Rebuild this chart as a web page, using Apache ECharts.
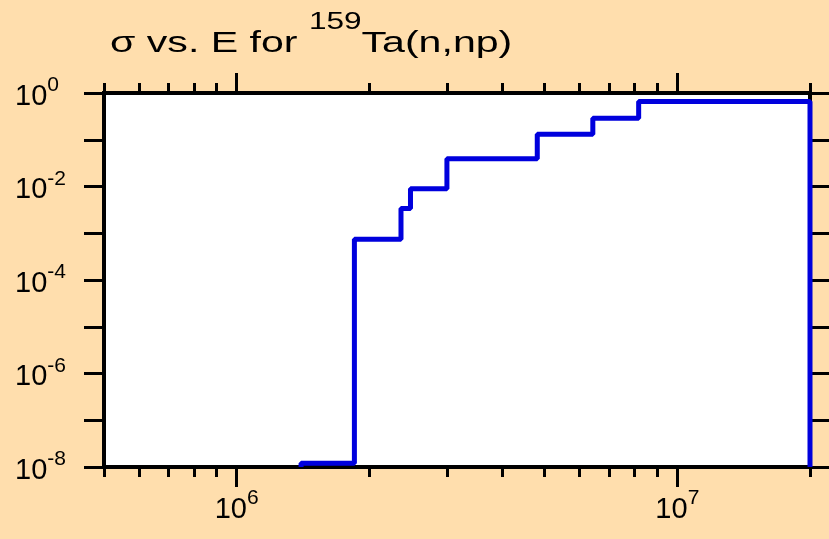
<!DOCTYPE html>
<html>
<head>
<meta charset="utf-8">
<script src="https://cdn.jsdelivr.net/npm/echarts@6/dist/echarts.min.js"></script>
<style>
html,body{margin:0;padding:0;background:#FFDEAD;}
#sigmaChart{width:829px;height:539px;}
</style>
</head>
<body>
<div id="sigmaChart"></div>
<script>
// bin edges (eV) and cross section per bin
var energyEdges = [1.4e6, 1.85e6, 2.36e6, 2.48e6, 3.0e6, 4.81e6, 6.43e6, 8.17e6, 2.0e7];
var sigmaValues = [1.2e-8, 7.4e-4, 3.4e-3, 8.9e-3, 3.9e-2, 0.131, 0.288, 0.66];
var sigmaFloor = 1e-8;

var xMajorTicks = [1e6, 1e7];
var xMinorTicks = [5e5, 6e5, 7e5, 8e5, 9e5, 2e6, 3e6, 4e6, 5e6, 6e6, 7e6, 8e6, 9e6, 2e7];
var yTicks = [1e-8, 1e-7, 1e-6, 1e-5, 1e-4, 1e-3, 1e-2, 1e-1, 1];
var yLabels = [1e-8, 1e-6, 1e-4, 1e-2, 1];

var sigmaChart = {
	options: {
		myChart: null,
		font: 'Liberation Sans'
	},
	stepData: function () {
		// step 'start': rise at each edge, then run flat to the next one
		var pts = [[energyEdges[0], sigmaFloor]];
		for (var i = 0; i < sigmaValues.length; i++) {
			pts.push([energyEdges[i + 1], sigmaValues[i]]);
		}
		pts.push([energyEdges[energyEdges.length - 1], sigmaFloor]);
		return pts;
	},
	powLabel: function (v) {
		var e = Math.round(Math.log10(v));
		return '{b|10}{e|' + e + '}';
	},
	richStyle: function () {
		var f = this.options.font;
		return {
			b: { fontSize: 29, lineHeight: 36, verticalAlign: 'bottom', color: '#000', fontFamily: f, fontWeight: 'normal' },
			e: { fontSize: 21, lineHeight: 21, verticalAlign: 'top', color: '#000', fontFamily: f, fontWeight: 'normal' }
		};
	},
	xAxis: function (pos, ticks, len, withLabels) {
		var that = this;
		return {
			type: 'log', position: pos, min: 5e5, max: 2e7,
			axisLine: { show: false },
			splitLine: { show: false },
			axisTick: { show: true, length: len, customValues: ticks, lineStyle: { color: '#000', width: 3 } },
			axisLabel: {
				show: withLabels, customValues: xMajorTicks, margin: 21,
				fontSize: 29, fontFamily: that.options.font, color: '#000',
				formatter: function (v) { return that.powLabel(v); },
				rich: that.richStyle()
			}
		};
	},
	initPage: function () {
		var that = this;
		var myChart = echarts.init(document.getElementById('sigmaChart'));
		that.options.myChart = myChart;
		var f = that.options.font;
		var option = {
			backgroundColor: '#FFDEAD',
			animation: false,
			// title drawn as graphic text so it can be widened like the original
			graphic: [{
				type: 'text', x: 110, y: 59, scaleX: 1.37,
				style: {
					text: '{a|σ vs. E for }{s|159}{a|Ta(n,np)}',
					verticalAlign: 'bottom', align: 'left',
					rich: {
						a: { fontSize: 30, lineHeight: 48, verticalAlign: 'bottom', fill: '#000', fontFamily: f },
						s: { fontSize: 23, lineHeight: 2, verticalAlign: 'top', fill: '#000', fontFamily: f }
					}
				}
			}],
			grid: {
				left: 104, right: 19, top: 93, bottom: 72,
				show: true, backgroundColor: '#fff', borderColor: '#000', borderWidth: 4
			},
			xAxis: [
				that.xAxis('bottom', xMajorTicks, 20, true),
				that.xAxis('bottom', xMinorTicks, 10, false),
				that.xAxis('top', xMajorTicks, 20, false),
				that.xAxis('top', xMinorTicks, 10, false)
			],
			yAxis: [{
				type: 'log', position: 'left', min: 1e-8, max: 1,
				axisLine: { show: false },
				splitLine: { show: false },
				axisTick: { show: true, length: 20, customValues: yTicks, lineStyle: { color: '#000', width: 3 } },
				axisLabel: {
					customValues: yLabels, align: 'left', margin: 89,
					fontSize: 29, fontFamily: f, color: '#000',
					formatter: function (v) { return that.powLabel(v); },
					rich: that.richStyle()
				}
			}, {
				type: 'log', position: 'right', min: 1e-8, max: 1,
				axisLine: { show: false },
				splitLine: { show: false },
				axisTick: { show: true, length: 20, customValues: yTicks, lineStyle: { color: '#000', width: 3 } },
				axisLabel: { show: false }
			}],
			series: [{
				type: 'line',
				step: 'start',
				xAxisIndex: 0, yAxisIndex: 0,
				data: that.stepData(),
				showSymbol: false,
				clip: false,
				lineStyle: { color: '#0000dd', width: 5 }
			}]
		};
		myChart.setOption(option);
	}
};
sigmaChart.initPage();
</script>
</body>
</html>
